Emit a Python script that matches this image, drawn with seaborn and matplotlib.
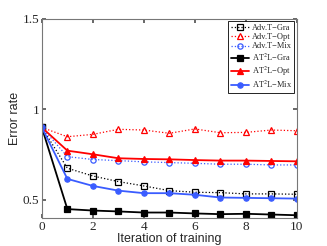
import numpy as np
import pandas as pd
import matplotlib
matplotlib.use('Agg')
import matplotlib.pyplot as plt
import seaborn as sns

# datos
iteraciones = list(range(11))
adv_gra = [0.90, 0.675, 0.632, 0.601, 0.577, 0.551, 0.542, 0.540, 0.533, 0.533, 0.531]
adv_opt = [0.90, 0.849, 0.862, 0.890, 0.886, 0.868, 0.892, 0.871, 0.873, 0.886, 0.882]
adv_mix = [0.90, 0.739, 0.723, 0.717, 0.710, 0.706, 0.702, 0.697, 0.697, 0.693, 0.693]
at2l_gra = [0.90, 0.449, 0.441, 0.436, 0.430, 0.430, 0.425, 0.421, 0.423, 0.419, 0.415]
at2l_opt = [0.90, 0.772, 0.752, 0.730, 0.726, 0.724, 0.720, 0.717, 0.717, 0.715, 0.713]
at2l_mix = [0.90, 0.616, 0.577, 0.551, 0.537, 0.537, 0.528, 0.513, 0.511, 0.509, 0.507]

series = [
    ('Adv.T\u2212Gra', adv_gra, 'black', ':', 's', 'none'),
    ('Adv.T\u2212Opt', adv_opt, 'red', ':', '^', 'none'),
    ('Adv.T\u2212Mix', adv_mix, '#3a5cff', ':', 'o', 'none'),
    ('AT$^2$L\u2212Gra', at2l_gra, 'black', '-', 's', 'full'),
    ('AT$^2$L\u2212Opt', at2l_opt, 'red', '-', '^', 'full'),
    ('AT$^2$L\u2212Mix', at2l_mix, '#3a5cff', '-', 'o', 'full'),
]

sns.set_theme(style="white")
plt.rcParams['font.family'] = ['Liberation Serif', 'DejaVu Serif']
plt.rcParams['mathtext.fontset'] = 'stix'

fig = plt.figure(figsize=(3.27, 2.46), dpi=100)
ax = fig.add_axes([0.128, 0.114, 0.78, 0.809])

for nombre, vals, color, ls, mk, fill in series:
    df = pd.DataFrame({'x': iteraciones, 'y': vals})
    lw = 1.3 if ls == '-' else 0.9
    sns.lineplot(data=df, x='x', y='y', ax=ax, color=color, linestyle=ls, lw=lw,
                 marker=mk, markersize=3.8, markeredgewidth=0.9,
                 markerfacecolor=('none' if fill == 'none' else color),
                 markeredgecolor=color, label=nombre)

ax.set_xlim(0, 10)
ax.set_ylim(0.4, 1.5)
ax.set_xticks([0, 2, 4, 6, 8, 10])
ax.set_yticks([0.5, 1, 1.5])
ax.set_yticklabels(['0.5', '1', '1.5'])
ax.tick_params(direction='in', length=3, labelsize=9.5, pad=2,
               top=True, right=True, bottom=True, left=True, color='#555555')
for s in ax.spines.values():
    s.set_color('#777777')
    s.set_linewidth(0.8)

ax.set_xlabel('Iteration of training', family='Liberation Sans', fontsize=9, labelpad=0)
ax.set_ylabel('Error rate', family='Liberation Sans', fontsize=9, labelpad=1)

leg = ax.legend(loc='upper right', fontsize=6, frameon=True, fancybox=False,
                edgecolor='black', framealpha=1, handlelength=2.2,
                borderpad=0.3, labelspacing=0.15, handletextpad=0.3,
                borderaxespad=0.3)
leg.get_frame().set_linewidth(0.6)

fig.savefig('out.png', dpi=100)
